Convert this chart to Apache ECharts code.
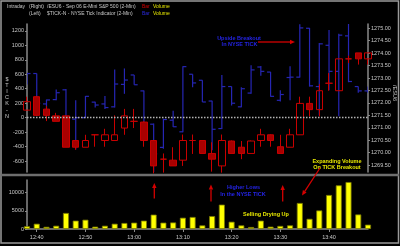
<!DOCTYPE html>
<html><head><meta charset="utf-8">
<script src="https://cdn.jsdelivr.net/npm/echarts@6/dist/echarts.min.js"></script>
<style>html,body{margin:0;padding:0;background:#000}#c{width:400px;height:246px}</style>
</head><body><div id="c"></div>
<script>
const times = ['12:38','12:40','12:42','12:44','12:46','12:48','12:50','12:52','12:54','12:56','12:58',
  '13:00','13:02','13:04','13:06','13:08','13:10','13:12','13:14','13:16','13:18','13:20','13:22','13:24',
  '13:26','13:28','13:30','13:32','13:34','13:36','13:38','13:40','13:42','13:44','13:46','13:48'];
const esOpen  = [1271.71,1272.25,1271.75,1271.48,1271.48,1270.49,1270.22,1270.72,1270.49,1270.49,1270.99,
  1271.26,1271.23,1270.49,1269.74,1269.70,1269.70,1270.49,1270.49,1269.97,1269.47,1270.47,1270.22,1269.97,
  1270.49,1270.72,1270.24,1270.22,1270.72,1271.98,1271.73,1272.79,1272.49,1273.77,1274.01,1273.77];
const esHigh  = [1272.25,1272.28,1271.87,1271.60,1271.50,1270.50,1270.72,1270.72,1270.96,1271.50,1271.76,
  1271.76,1271.26,1270.49,1269.97,1270.22,1270.73,1270.73,1270.49,1270.42,1270.73,1270.49,1270.47,1270.49,
  1270.96,1270.74,1270.72,1270.96,1272.25,1272.25,1272.75,1273.20,1273.77,1273.90,1274.01,1274.01];
const esLow   = [1271.70,1271.48,1271.27,1271.26,1270.22,1270.12,1270.22,1270.24,1270.24,1270.49,1270.72,
  1270.99,1270.24,1269.17,1269.20,1269.47,1269.47,1269.95,1269.97,1269.24,1269.20,1269.97,1269.74,1269.97,
  1270.24,1270.24,1269.97,1270.22,1270.72,1271.46,1271.46,1272.49,1272.49,1273.60,1273.54,1273.54];
const esClose = [1272.05,1271.50,1271.50,1271.26,1270.22,1270.22,1270.49,1270.72,1270.72,1270.72,1271.48,
  1271.26,1270.49,1269.47,1269.74,1269.47,1270.49,1270.49,1269.97,1269.74,1270.49,1269.97,1269.97,1270.47,
  1270.72,1270.49,1269.97,1270.72,1271.98,1271.73,1272.49,1272.79,1273.77,1273.77,1273.77,1274.01];
const tickOpen  = [480,610,190,250,385,-20,0,215,190,150,460,590,370,-90,-410,-35,-195,600,517,230,-150,430,150,340,700,630,240,555,560,1235,430,1000,640,1130,430,370];
const tickHigh  = [620,610,250,390,395,240,300,220,300,665,680,590,375,-80,-15,95,710,600,517,235,590,430,420,725,715,632,380,710,1290,1240,1030,1210,1160,1295,430,430];
const tickLow   = [460,190,20,240,-40,-440,0,140,120,140,330,455,-180,-760,-430,-130,-200,420,217,-450,-155,170,145,330,580,290,225,240,555,430,30,380,20,490,345,340];
const tickClose = [610,200,245,345,-30,0,295,175,140,465,520,455,-170,-500,-25,-125,705,480,217,-160,430,200,400,660,640,295,320,560,1240,440,1020,640,1140,500,370,380];
const volume = [750,1450,600,900,4400,2300,2550,650,900,1450,1650,1750,2300,3950,1750,1800,3100,3300,1000,3550,
  6700,2000,1000,550,2300,650,850,1000,7150,2800,5100,9350,12000,12900,4000,1200];
const timeLabels = ['12:40','12:50','13:00','13:10','13:20','13:30','13:40'];
const tickAxisLabels = [-600,-400,-200,0,200,400,600,800,1000,1200];
const priceAxisLabels = [1269.5,1270,1270.5,1271,1271.5,1272,1272.5,1273,1273.5,1274,1274.5,1275];
const volumeAxisLabels = [0,5000,10000];

const toMin = s => { const p = s.split(':').map(Number); return (p[0]-12)*60 + p[1]; };
const X0 = toMin(times[0]), X1 = toMin(times[times.length-1]);
const xTickValues = timeLabels.map(toMin);
const FF = '"Liberation Sans", Arial, sans-serif';
const AX = '#8a8a8a', LBL = '#c8c8c8';

const esData = times.map((t,i)=>[toMin(t), esOpen[i], esClose[i], esLow[i], esHigh[i]]);
const tickData = times.map((t,i)=>[toMin(t), tickOpen[i], tickHigh[i], tickLow[i], tickClose[i]]);
const volData = times.map((t,i)=>[toMin(t), volume[i]]);

const chart = echarts.init(document.getElementById('c'), null, {renderer:'canvas'});

function ohlcItem(params, api){
  const x = api.value(0);
  const pO = api.coord([x, api.value(1)]);
  const pH = api.coord([x, api.value(2)]);
  const pL = api.coord([x, api.value(3)]);
  const pC = api.coord([x, api.value(4)]);
  const w = 3.5, st = {stroke:'#2626b4', lineWidth:1.2};
  return {type:'group', children:[
    {type:'line', shape:{x1:pH[0], y1:pH[1], x2:pL[0], y2:pL[1]}, style:st},
    {type:'line', shape:{x1:pO[0]-w, y1:pO[1], x2:pO[0], y2:pO[1]}, style:st},
    {type:'line', shape:{x1:pC[0], y1:pC[1], x2:pC[0]+w, y2:pC[1]}, style:st}
  ]};
}

function txt(x, y, s, fill, opt){
  opt = opt || {};
  return {type:'text', x:x, y:y, rotation: opt.rot || 0, z:100,
    style:{text:s, fill:fill, font:(opt.bold?'bold ':'') + (opt.size||5.5) + 'px ' + FF,
      textAlign: opt.align || 'left', textVerticalAlign: opt.valign || 'middle', lineHeight: opt.lh}};
}
const RED = '#d40000';
function arrow(x1,y1,x2,y2){
  const dx = x2-x1, dy = y2-y1, L = Math.hypot(dx,dy), ux = dx/L, uy = dy/L;
  const bx = x2 - ux*5, by = y2 - uy*5, px = -uy*2.2, py = ux*2.2;
  return [
    {type:'line', z:100, shape:{x1:x1,y1:y1,x2:bx,y2:by}, style:{stroke:RED, lineWidth:1.3}},
    {type:'polygon', z:100, shape:{points:[[x2,y2],[bx+px,by+py],[bx-px,by-py]]}, style:{fill:RED}}
  ];
}

const graphics = [
  {type:'rect', z:90, shape:{x:1, y:1, width:397.5, height:242}, style:{fill:'none', stroke:'#9a9a9a', lineWidth:1.5}},
  {type:'line', z:90, shape:{x1:1, y1:175, x2:399, y2:175}, style:{stroke:'#6e6e6e', lineWidth:2.5}},
  txt(7, 7, 'Intraday', LBL, {size:5}),
  txt(29, 7, '(Right)', LBL, {size:5}),
  txt(47, 7, '/ESU6 - Sep 06 E-Mini S&P 500 (2-Min)', LBL, {size:5}),
  txt(142, 7, 'Bar', '#d00000', {size:5}),
  txt(153, 7, 'Volume', '#e8e800', {size:5}),
  txt(29, 13.5, '(Left)', LBL, {size:5}),
  txt(47, 13.5, '$TICK-N - NYSE Tick Indicator (2-Min)', LBL, {size:5}),
  txt(142, 13.5, 'Bar', '#2a2ae0', {size:5}),
  txt(153, 13.5, 'Volume', '#e8e800', {size:5}),
  txt(7, 76, '$\nT\nI\nC\nK\n-\nN', LBL, {align:'center', valign:'top', lh:6.2}),
  txt(394.5, 93, '/ESU6', LBL, {align:'center', rot:-Math.PI/2}),
  txt(239, 38, 'Upside Breakout', '#2424e6', {bold:true, align:'center'}),
  txt(239.5, 44.5, 'In NYSE TICK', '#2424e6', {bold:true, align:'center'}),
  txt(337, 161, 'Expanding Volume', '#e8e800', {bold:true, align:'center'}),
  txt(337, 167.7, 'On TICK Breakout', '#e8e800', {bold:true, align:'center'}),
  txt(243.5, 187.5, 'Higher Lows', '#2424e6', {bold:true, align:'center'}),
  txt(243, 194.3, 'In the NYSE TICK', '#2424e6', {bold:true, align:'center'}),
  txt(266, 214.5, 'Selling Drying Up', '#e8e800', {bold:true, align:'center'})
].concat(arrow(258,42,295,42), arrow(320,168,302,195.5),
  arrow(154.3,198.5,154.3,183), arrow(211,201.5,211,184.5), arrow(282.7,201.5,282.7,185));

const yCommon = (labels, fmt) => ({
  axisLine:{show:true, onZero:false, lineStyle:{color:AX, width:1.5}},
  axisTick:{show:true, customValues:labels, length:2, lineStyle:{color:AX}},
  axisLabel:{customValues:labels, formatter:fmt, color:LBL, fontSize:5.5, fontFamily:FF, margin:3},
  splitLine:{show:false}
});

const option = {
  backgroundColor:'#000',
  animation:false,
  grid:[{left:27, right:32, top:24, height:148}, {left:27, right:32, top:180, height:49}],
  xAxis:[
    {type:'value', gridIndex:0, min:X0, max:X1, show:false},
    {type:'value', gridIndex:1, min:X0, max:X1,
      axisLine:{show:true, onZero:false, lineStyle:{color:AX, width:1.5}},
      axisTick:{show:true, customValues:xTickValues, length:3, lineStyle:{color:AX}},
      axisLabel:{customValues:xTickValues, color:LBL, fontSize:5.5, fontFamily:FF, margin:5,
        formatter:v=>{ const k = xTickValues.indexOf(Math.round(v)); return k>=0 ? timeLabels[k] : ''; }},
      splitLine:{show:false}}
  ],
  yAxis:[
    Object.assign({type:'value', gridIndex:0, position:'left', min:-750, max:1294}, yCommon(tickAxisLabels, v=>String(Math.round(v)))),
    Object.assign({type:'value', gridIndex:0, position:'right', min:1269.225, max:1275.17}, yCommon(priceAxisLabels, v=>v.toFixed(2))),
    Object.assign({type:'value', gridIndex:1, position:'left', min:0, max:13460}, yCommon(volumeAxisLabels, v=>String(Math.round(v))))
  ],
  series:[
    {type:'custom', name:'$TICK-N', xAxisIndex:0, yAxisIndex:0, clip:true, renderItem:ohlcItem,
      data:tickData, encode:{x:0, y:[1,2,3,4]}, z:2,
      markLine:{silent:true, symbol:'none', label:{show:false}, animation:false,
        lineStyle:{color:'#b4b4b4', type:[1.5,1.5], width:1.3}, data:[{yAxis:0}]}},
    {type:'candlestick', name:'/ESU6', xAxisIndex:0, yAxisIndex:1, barWidth:7, clip:true, z:3,
      data:esData, encode:{x:0, y:[1,2,3,4]},
      itemStyle:{color:'rgba(0,0,0,0)', color0:'#a80000', borderColor:'#c80000', borderColor0:'#c80000', borderWidth:1}},
    {type:'bar', name:'Volume', xAxisIndex:1, yAxisIndex:2, barWidth:6, clip:true,
      data:volData, itemStyle:{color:'#ffff00', borderColor:'#7a7a00', borderWidth:0.8}}
  ],
  graphic:graphics
};
chart.setOption(option);
</script></body></html>
